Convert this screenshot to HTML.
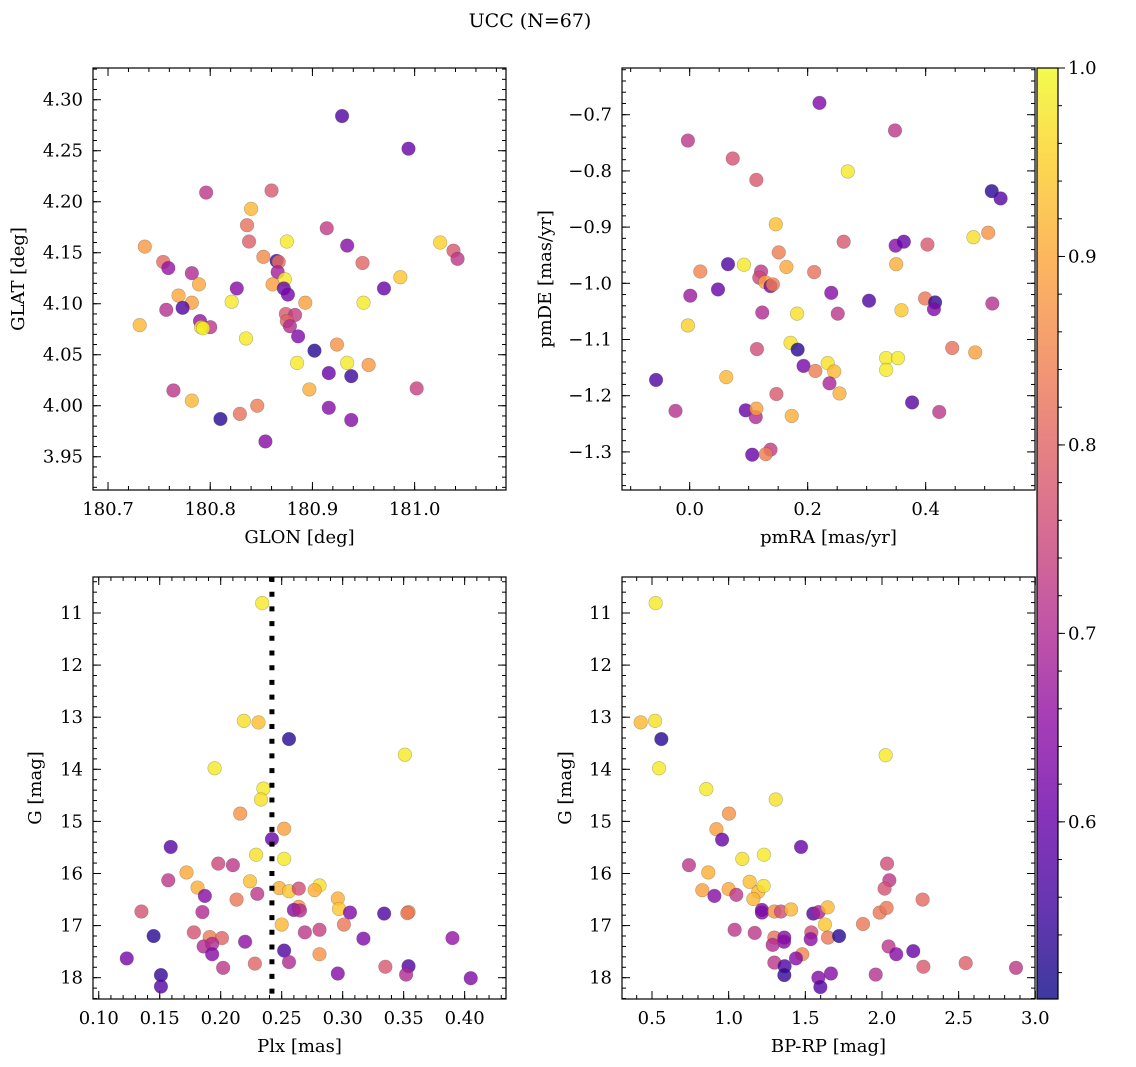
<!DOCTYPE html>
<html><head><meta charset="utf-8"><title>UCC (N=67)</title>
<style>
html,body{margin:0;padding:0;background:#fff;}
svg{display:block;font-family:"DejaVu Serif","Liberation Serif",serif;}
</style></head>
<body>
<svg id="chart" width="1136" height="1067" viewBox="0 0 1136 1067" xmlns="http://www.w3.org/2000/svg">
<defs>
<linearGradient id="cbgrad" x1="0" y1="1" x2="0" y2="0"></linearGradient>
</defs>
<text x="530" y="27" text-anchor="middle" font-size="19">UCC (N=67)</text>
</svg>
<script>
// ---------- Panel 1: GLON vs GLAT ----------
const glonValues=[180.929,180.994,180.796,180.860,180.840,180.836,180.838,180.914,180.875,180.736,180.934,181.025,181.038,181.042,180.754,180.759,180.852,180.865,180.867,180.949,180.782,180.866,180.789,180.873,180.861,180.826,180.872,180.876,180.970,180.986,180.769,180.821,180.893,180.950,180.782,180.757,180.773,180.874,180.883,180.875,180.878,180.790,180.731,180.800,180.791,180.793,180.835,180.886,180.902,180.924,180.885,180.934,180.955,180.916,180.938,180.764,180.897,181.002,180.782,180.846,180.916,180.810,180.829,180.938,180.854];
const glatValues=[4.284,4.252,4.209,4.211,4.193,4.177,4.161,4.174,4.161,4.156,4.157,4.160,4.152,4.144,4.141,4.135,4.146,4.142,4.141,4.140,4.130,4.131,4.119,4.124,4.119,4.115,4.115,4.109,4.115,4.126,4.108,4.102,4.101,4.101,4.101,4.094,4.096,4.090,4.089,4.083,4.078,4.083,4.079,4.077,4.077,4.076,4.066,4.068,4.054,4.060,4.042,4.042,4.040,4.032,4.029,4.015,4.016,4.017,4.005,4.000,3.998,3.987,3.992,3.986,3.965];
const glatProb=[0.57,0.60,0.72,0.78,0.92,0.82,0.79,0.73,0.98,0.88,0.64,0.95,0.78,0.72,0.81,0.66,0.86,0.55,0.82,0.80,0.70,0.68,0.90,0.98,0.89,0.64,0.60,0.62,0.60,0.94,0.90,0.98,0.89,0.98,0.89,0.71,0.57,0.78,0.73,0.80,0.70,0.66,0.92,0.72,0.97,0.99,0.98,0.63,0.53,0.87,0.98,0.98,0.88,0.60,0.55,0.72,0.91,0.74,0.92,0.84,0.64,0.53,0.82,0.64,0.64];
// ---------- Panel 2: pmRA vs pmDE ----------
const pmraValues=[0.220,-0.003,0.348,0.073,0.113,0.268,0.512,0.527,0.146,0.261,0.349,0.363,0.403,0.481,0.506,0.151,0.065,0.092,0.164,0.350,0.018,0.211,0.121,0.118,0.128,0.137,0.141,0.001,0.048,0.240,0.304,0.399,0.416,0.414,0.513,0.359,0.123,0.182,0.251,-0.003,0.114,0.171,0.183,0.445,0.484,0.193,0.234,0.333,0.353,0.213,0.245,0.333,-0.057,0.062,0.237,0.147,0.254,0.377,-0.024,0.095,0.112,0.113,0.173,0.423,0.106,0.137,0.129];
const pmdeValues=[-0.679,-0.746,-0.728,-0.778,-0.816,-0.801,-0.836,-0.849,-0.895,-0.926,-0.933,-0.926,-0.931,-0.918,-0.910,-0.945,-0.966,-0.967,-0.971,-0.966,-0.979,-0.980,-0.979,-0.990,-0.998,-1.005,-1.002,-1.022,-1.011,-1.017,-1.031,-1.027,-1.034,-1.046,-1.036,-1.048,-1.052,-1.054,-1.054,-1.075,-1.117,-1.106,-1.118,-1.115,-1.123,-1.147,-1.142,-1.133,-1.133,-1.156,-1.157,-1.154,-1.172,-1.167,-1.178,-1.197,-1.196,-1.212,-1.227,-1.226,-1.238,-1.223,-1.236,-1.229,-1.305,-1.296,-1.304];
const pmProb=[0.63,0.72,0.72,0.77,0.78,0.98,0.53,0.58,0.93,0.78,0.64,0.60,0.78,0.97,0.87,0.84,0.57,0.98,0.90,0.91,0.85,0.82,0.72,0.75,0.89,0.62,0.84,0.67,0.60,0.64,0.57,0.83,0.54,0.63,0.71,0.94,0.70,0.97,0.72,0.95,0.76,0.97,0.53,0.82,0.89,0.62,0.97,0.98,0.98,0.84,0.92,0.98,0.57,0.92,0.69,0.78,0.91,0.58,0.71,0.60,0.70,0.89,0.91,0.72,0.60,0.73,0.84];
// ---------- Panel 3: Plx vs G ----------
const plxValues=[0.234,0.219,0.231,0.256,0.351,0.195,0.235,0.233,0.216,0.252,0.242,0.159,0.229,0.252,0.198,0.210,0.172,0.157,0.224,0.181,0.281,0.248,0.256,0.264,0.277,0.230,0.187,0.213,0.296,0.264,0.260,0.265,0.297,0.306,0.334,0.354,0.353,0.135,0.185,0.250,0.301,0.178,0.269,0.281,0.145,0.191,0.201,0.220,0.317,0.390,0.186,0.193,0.193,0.123,0.252,0.281,0.228,0.256,0.202,0.335,0.354,0.352,0.296,0.405,0.151,0.151];
const gPlxValues=[10.81,13.07,13.10,13.42,13.72,13.98,14.37,14.58,14.85,15.14,15.34,15.49,15.64,15.72,15.81,15.84,15.98,16.13,16.15,16.27,16.23,16.28,16.34,16.29,16.32,16.39,16.43,16.50,16.48,16.64,16.70,16.71,16.68,16.75,16.77,16.74,16.76,16.73,16.74,16.98,16.98,17.13,17.13,17.08,17.20,17.22,17.24,17.31,17.25,17.24,17.40,17.35,17.55,17.63,17.48,17.55,17.73,17.70,17.81,17.79,17.78,17.94,17.92,18.01,17.95,18.17];
const plxProb=[0.98,0.97,0.93,0.53,0.98,0.98,0.98,0.97,0.87,0.89,0.60,0.58,0.97,0.98,0.75,0.72,0.90,0.72,0.93,0.91,0.97,0.91,0.94,0.76,0.91,0.72,0.64,0.83,0.91,0.88,0.64,0.70,0.94,0.63,0.57,0.86,0.83,0.77,0.70,0.92,0.83,0.77,0.72,0.74,0.53,0.84,0.80,0.65,0.63,0.66,0.70,0.70,0.64,0.62,0.57,0.87,0.80,0.70,0.72,0.78,0.57,0.70,0.64,0.63,0.54,0.58];
const plxCut=[0.242];
// ---------- Panel 4: BP-RP vs G ----------
const bprpValues=[0.524,0.426,0.520,0.561,2.024,0.546,0.854,1.307,1.002,0.920,0.957,1.472,1.089,1.230,0.741,2.033,0.867,2.048,1.137,0.828,1.000,0.907,1.050,1.193,1.228,1.161,2.017,2.265,1.217,1.217,1.298,1.341,1.407,1.552,1.587,1.646,1.628,1.985,2.030,1.876,1.039,1.170,1.539,1.535,1.648,1.720,1.298,1.363,1.361,1.287,1.480,1.439,1.298,1.365,1.363,2.043,2.093,2.204,2.270,2.546,2.874,1.959,1.585,1.667,1.598];
const gCmdValues=[10.81,13.10,13.07,13.42,13.73,13.98,14.38,14.58,14.85,15.15,15.35,15.49,15.72,15.64,15.84,15.81,15.98,16.13,16.16,16.32,16.30,16.43,16.41,16.35,16.24,16.49,16.29,16.50,16.70,16.75,16.73,16.73,16.69,16.77,16.74,16.65,16.98,16.75,16.66,16.97,17.08,17.14,17.13,17.26,17.23,17.20,17.23,17.23,17.31,17.37,17.55,17.63,17.71,17.78,17.95,17.40,17.55,17.49,17.79,17.72,17.81,17.94,18.00,17.92,18.18];
const cmdProb=[0.98,0.92,0.97,0.53,0.98,0.98,0.98,0.97,0.87,0.89,0.60,0.60,0.97,0.98,0.72,0.76,0.91,0.72,0.93,0.89,0.90,0.64,0.72,0.92,0.97,0.92,0.77,0.81,0.63,0.63,0.87,0.76,0.92,0.57,0.69,0.92,0.94,0.83,0.83,0.83,0.72,0.72,0.76,0.65,0.83,0.53,0.82,0.64,0.64,0.70,0.85,0.64,0.72,0.57,0.54,0.72,0.64,0.60,0.78,0.79,0.72,0.71,0.64,0.64,0.58];
// ---------- Tick labels ----------
const glonTicks=[180.7,180.8,180.9,181.0];
const glatTicks=[3.95,4.00,4.05,4.10,4.15,4.20,4.25,4.30];
const pmraTicks=[0.0,0.2,0.4];
const pmdeTicks=[-1.3,-1.2,-1.1,-1.0,-0.9,-0.8,-0.7];
const plxTicks=[0.10,0.15,0.20,0.25,0.30,0.35,0.40];
const gTicks=[11,12,13,14,15,16,17,18];
const bprpTicks=[0.5,1.0,1.5,2.0,2.5,3.0];
const cbarTicks=[0.6,0.7,0.8,0.9,1.0];
const cbarRange=[0.506,1.0];

const NS='http://www.w3.org/2000/svg';
const svg=document.getElementById('chart');
function mk(tag,attrs,parent){const e=document.createElementNS(NS,tag);for(const k in attrs)e.setAttribute(k,attrs[k]);(parent||svg).appendChild(e);return e;}

const plasma=[[13,8,135],[65,4,157],[106,0,168],[143,13,164],[177,42,144],[204,71,120],[225,100,98],[242,132,75],[252,166,54],[252,206,37],[240,249,33]];
function plasmaColor(t){t=Math.max(0,Math.min(1,t));const f=t*10;const i=Math.min(9,Math.floor(f));const r=f-i;const a=plasma[i],b=plasma[i+1];
 return 'rgb('+Math.round(a[0]+(b[0]-a[0])*r)+','+Math.round(a[1]+(b[1]-a[1])*r)+','+Math.round(a[2]+(b[2]-a[2])*r)+')';}
function probColor(p){return plasmaColor((p-cbarRange[0])/(cbarRange[1]-cbarRange[0]));}
function fmtMinus(s){return s.replace('-','\u2212');}

function makePanel(cfg){
 const g=mk('g',{});
 
 
 const L=cfg.box[0],T=cfg.box[1],W=cfg.box[2],H=cfg.box[3];
 const sx=v=>L+(v-cfg.xd[0])/(cfg.xd[1]-cfg.xd[0])*W;
 const sy=v=>cfg.yinv? T+(v-cfg.yd[0])/(cfg.yd[1]-cfg.yd[0])*H : T+H-(v-cfg.yd[0])/(cfg.yd[1]-cfg.yd[0])*H;
 const tg=mk('g',{stroke:'#000','stroke-width':1},g);
 
 
 const xs=Math.ceil(cfg.xd[0]/cfg.xminor-1e-6);
 for(let k=xs;k*cfg.xminor<=cfg.xd[1]+1e-9;k++){const x=sx(k*cfg.xminor);mk('line',{x1:x,x2:x,y1:T+H,y2:T+H-4},tg);mk('line',{x1:x,x2:x,y1:T,y2:T+4},tg);}
 const ys=Math.ceil(cfg.yd[0]/cfg.yminor-1e-6);
 for(let k=ys;k*cfg.yminor<=cfg.yd[1]+1e-9;k++){const y=sy(k*cfg.yminor);mk('line',{x1:L,x2:L+4,y1:y,y2:y},tg);mk('line',{x1:L+W,x2:L+W-4,y1:y,y2:y},tg);}
 cfg.xt.forEach(v=>{const x=sx(v);mk('line',{x1:x,x2:x,y1:T+H,y2:T+H-8},tg);mk('line',{x1:x,x2:x,y1:T,y2:T+8},tg);
  const t=mk('text',{x:x,y:T+H+25,'text-anchor':'middle','font-size':18},g);t.textContent=fmtMinus(v.toFixed(cfg.xdec));
  });
 cfg.yt.forEach(v=>{const y=sy(v);mk('line',{x1:L,x2:L+8,y1:y,y2:y},tg);mk('line',{x1:L+W,x2:L+W-8,y1:y,y2:y},tg);
  const t=mk('text',{x:L-10,y:y+6,'text-anchor':'end','font-size':18},g);t.textContent=fmtMinus(v.toFixed(cfg.ydec));
  });
 const pg=mk('g',{},g);
 
 
 cfg.x.forEach((xv,i)=>{const c=mk('circle',{cx:sx(xv),cy:sy(cfg.y[i]),r:6.8,fill:probColor(cfg.p[i]),'fill-opacity':0.8,stroke:'rgba(60,60,60,0.35)','stroke-width':0.6},pg);
  
  });
 if(cfg.vline){cfg.vline.forEach(v=>{const l=mk('line',{x1:sx(v),x2:sx(v),y1:T,y2:T+H,stroke:'#000','stroke-width':5,'stroke-dasharray':'5 9.7'},g);
  
  });}
 const fr=mk('rect',{x:L,y:T,width:W,height:H,fill:'none',stroke:'#000','stroke-width':1.2},g);
 
 
 const xl=mk('text',{x:L+W/2,y:T+H+53,'text-anchor':'middle','font-size':18},g);xl.textContent=cfg.xlab;
 
 const yx=cfg.ylabx,yy=T+H/2;
 const yl=mk('text',{x:yx,y:yy,'text-anchor':'middle','font-size':18,transform:'rotate(-90 '+yx+' '+yy+')'},g);yl.textContent=cfg.ylab;
 
}

makePanel({name:'glon-glat-panel',box:[93,68,413,422],xd:[180.6853,181.0894],yd:[3.9174,4.3311],x:glonValues,y:glatValues,p:glatProb,xt:glonTicks,yt:glatTicks,xminor:0.02,yminor:0.01,xdec:1,ydec:2,xlab:'GLON [deg]',ylab:'GLAT [deg]',ylabx:24});
makePanel({name:'pm-panel',box:[622,68,413,422],xd:[-0.1147,0.5853],yd:[-1.3678,-0.6169],x:pmraValues,y:pmdeValues,p:pmProb,xt:pmraTicks,yt:pmdeTicks,xminor:0.05,yminor:0.02,xdec:1,ydec:1,xlab:'pmRA [mas/yr]',ylab:'pmDE [mas/yr]',ylabx:551});
makePanel({name:'plx-g-panel',box:[93,577,413,422],xd:[0.0953,0.4339],yd:[10.309,18.409],yinv:true,x:plxValues,y:gPlxValues,p:plxProb,xt:plxTicks,yt:gTicks,xminor:0.01,yminor:0.2,xdec:2,ydec:0,xlab:'Plx [mas]',ylab:'G [mag]',ylabx:41,vline:plxCut});
makePanel({name:'cmd-panel',box:[622,577,413,422],xd:[0.3043,2.998],yd:[10.309,18.409],yinv:true,x:bprpValues,y:gCmdValues,p:cmdProb,xt:bprpTicks,yt:gTicks,xminor:0.1,yminor:0.2,xdec:1,ydec:0,xlab:'BP-RP [mag]',ylab:'G [mag]',ylabx:571});

const grad=document.getElementById('cbgrad');
for(let i=0;i<=20;i++){mk('stop',{offset:(i/20),'stop-color':plasmaColor(i/20)},grad);}
const cb=mk('g',{});


const CL=1037,CT=68,CW=21,CH=931;
mk('rect',{x:CL,y:CT,width:CW,height:CH,fill:'url(#cbgrad)','fill-opacity':0.8},cb);
mk('rect',{x:CL,y:CT,width:CW,height:CH,fill:'none',stroke:'#000','stroke-width':1.2},cb);
const cy=v=>CT+CH-(v-cbarRange[0])/(cbarRange[1]-cbarRange[0])*CH;
for(let k=26;k<=50;k++){const v=k*0.02;if(v<cbarRange[0]||v>cbarRange[1]+1e-9)continue;const y=cy(v);mk('line',{x1:CL+CW,x2:CL+CW+4,y1:y,y2:y,stroke:'#000','stroke-width':1},cb);}
cbarTicks.forEach(v=>{const y=cy(v);mk('line',{x1:CL+CW,x2:CL+CW+7,y1:y,y2:y,stroke:'#000','stroke-width':1},cb);
 const t=mk('text',{x:CL+CW+10,y:y+6,'font-size':18},cb);t.textContent=v.toFixed(1);
 });
</script>
</body></html>
